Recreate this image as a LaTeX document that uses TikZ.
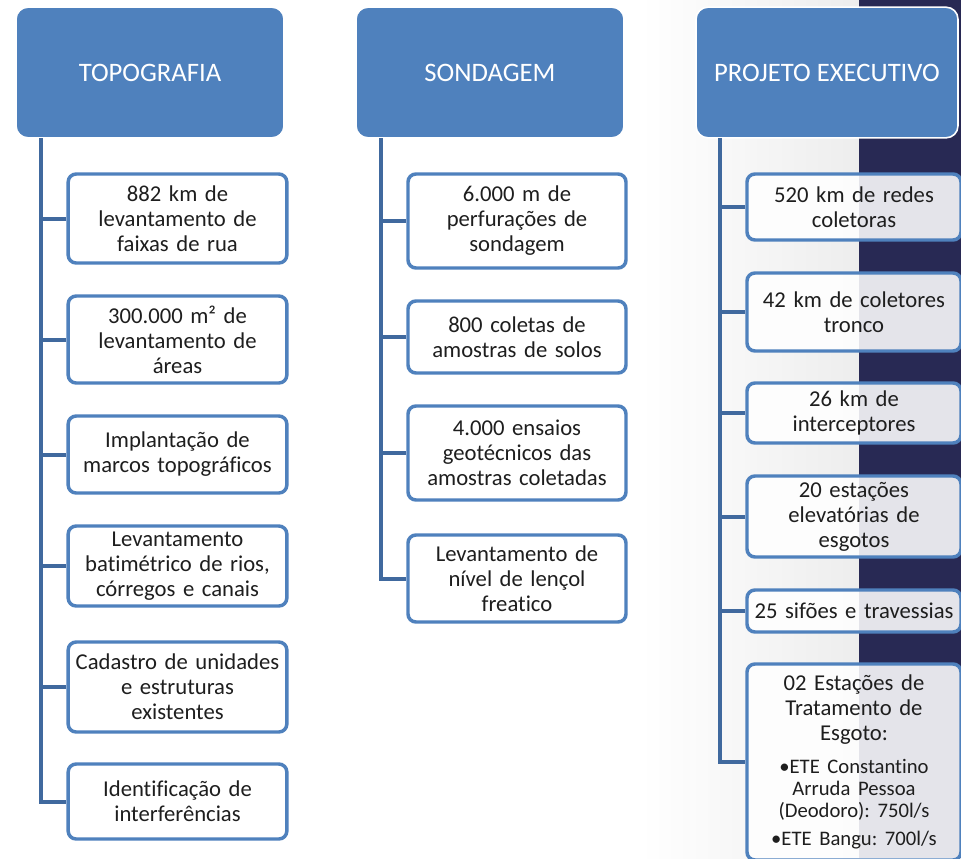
\documentclass[tikz,border=0pt]{standalone}
\usepackage{fontspec}
\setmainfont{Carlito}[Ligatures={NoCommon}]

\definecolor{headblue}{RGB}{79,129,189}
\definecolor{lineblue}{RGB}{64,105,158}
\definecolor{navy}{RGB}{40,41,84}
\definecolor{ink}{RGB}{30,30,30}

\tikzset{
  head/.style={rectangle,rounded corners=9pt,fill=headblue,draw=white,line width=1.2pt,
    minimum width=201pt,minimum height=98pt,text=white,
    font=\fontsize{20}{24}\selectfont},
  item/.style={rectangle,rounded corners=6pt,draw=headblue,line width=2.6pt,
    fill=white,fill opacity=0.88,text opacity=1,text=ink,inner xsep=2pt,
    minimum width=164pt,text width=156pt,align=center,
    font=\fontsize{17}{18.75}\selectfont\frenchspacing},
  conn/.style={draw=lineblue,line width=3pt}
}

\begin{document}
\begin{tikzpicture}[x=0.75pt,y=-0.75pt]
  \useasboundingbox (0,0) rectangle (961,858);
  \fill[white] (0,0) rectangle (859,858);
  \shade[left color=white,right color=gray!14] (640,0) rectangle (859,858);
  \fill[navy] (859,0) rectangle (961,858);

  % headers
  \node[head] (topo) at (150,72.5) {TOPOGRAFIA};
  \node[head] (sond) at (490,72.5) {SONDAGEM};
  \node[head,minimum width=196.5pt] (proj) at (827,72.5) {PROJETO EXECUTIVO};

  % topografia
  \foreach \n/\y/\h/\t in {1/218.5/89/{882 km de\\levantamento de\\faixas de rua},
      2/339.5/87/{300.000 m² de\\levantamento de\\áreas},
      3/454.5/77/{Implantação de\\marcos topográficos},
      4/566/80/{Levantamento\\batimétrico de rios,\\córregos e canais},
      5/687/90/{Cadastro de unidades\\e estruturas\\existentes},
      6/801.5/75/{Identificação de\\interferências}}
  { \node[item,minimum height=\h*0.75pt] (topo\n) at (177.5,\y) {\t}; }

  % sondagem
  \foreach \n/\y/\h/\t in {1/221/94/{6.000 m de\\perfurações de\\sondagem},
      2/337/72/{800 coletas de\\amostras de solos},
      3/453/94/{4.000 ensaios\\geotécnicos das\\amostras coletadas},
      4/578.5/87/{Levantamento de\\nível de lençol\\freatico}}
  { \node[item,minimum height=\h*0.75pt,minimum width=163.5pt] (sond\n) at (517,\y) {\t}; }

  % projeto executivo
  \foreach \n/\y/\h/\t in {1/207/66/{520 km de redes\\coletoras},
      2/312/78/{42 km de coletores\\tronco},
      3/413/60/{26 km de\\interceptores},
      4/516.5/81/{20 estações\\elevatórias de\\esgotos},
      5/611/42/{25 sifões e travessias}}
  { \node[item,minimum height=\h*0.75pt,minimum width=160.5pt,text width=154pt] (proj\n) at (854,\y) {\t}; }

  \node[item,minimum height=147pt,minimum width=160.5pt,text width=154pt] (proj6) at (854,762)
  {02 Estações de\\Tratamento de\\Esgoto:\par
   \vspace{8pt}
   {\fontsize{15.5}{16.5}\selectfont •ETE Constantino\\Arruda Pessoa\\(Deodoro): 750l/s\par}
   \vspace{4.5pt}
   {\fontsize{15.5}{16.5}\selectfont •ETE Bangu: 700l/s\par}};

  % connectors
  \coordinate (topospine) at (41,138);
  \coordinate (sondspine) at (381,138);
  \coordinate (projspine) at (720,138);
  \draw[conn] (topospine) |- (topo6.west);
  \draw[conn] (sondspine) |- (sond4.west);
  \draw[conn] (projspine) |- (proj6.west);
  \foreach \n in {1,...,5}
  { \draw[conn] (topo\n.west) -- (topo\n.west -| topospine);
    \draw[conn] (proj\n.west) -- (proj\n.west -| projspine); }
  \foreach \n in {1,2,3}
  { \draw[conn] (sond\n.west) -- (sond\n.west -| sondspine); }
\end{tikzpicture}
\end{document}
